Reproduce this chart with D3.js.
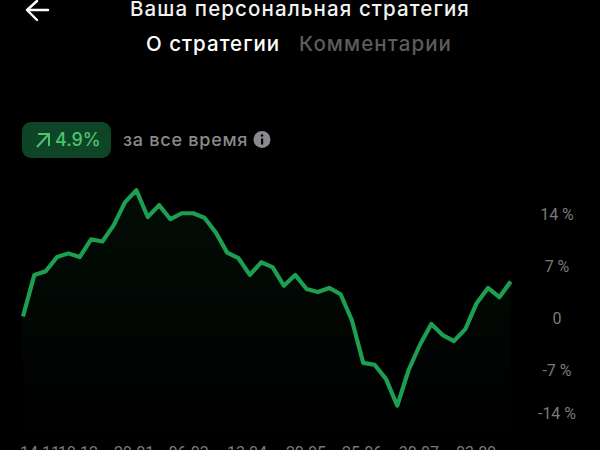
<!DOCTYPE html>
<html>
<head>
<meta charset="utf-8">
<script src="https://cdn.jsdelivr.net/npm/d3@7"></script>
<style>
  html, body { margin: 0; padding: 0; background: #000; overflow: hidden; }
  text { font-family: Inter, Roboto, sans-serif; }
  .tick-label { font-family: Roboto, sans-serif; }
</style>
</head>
<body>
<svg id="chart" width="600" height="450"></svg>
<script>
// percent per point
const returns = [0.2, 5.8, 6.3, 8.2, 8.7, 8.2, 10.6, 10.3, 12.5, 15.6, 17.2, 13.6, 15.2, 13.3, 14.1,
  14.1, 13.5, 11.5, 8.8, 8.05, 5.8, 7.5, 6.85, 4.35, 5.8, 3.9, 3.5, 4.05, 3.2, -0.3, -6.05, -6.3,
  -8.2, -11.8, -7.0, -3.6, -0.8, -2.3, -3.1, -1.5, 2.0, 4.05, 2.8, 4.9];
const yTicks = [14, 7, 0, -7];
const dateLabels = ['14.11', '19.12', '29.01', '06.03', '13.04', '20.05', '25.06', '30.07', '03.09'];
// where each date label is centred, in point numbers
const datePositions = [1.5, 4.85, 9.8, 14.6, 19.75, 24.95, 29.9, 34.9, 39.95];

const green = '#1d9f52';
const svg = d3.select('#chart');

const x = d3.scaleLinear().domain([0, returns.length - 1]).range([23, 510.7]);
const y = d3.scaleLinear().domain([0, 14]).range([318, 214]);

// header
svg.append('path')
  .attr('d', 'M48 10H28M37 1L27 10L37 20')
  .attr('fill', 'none').attr('stroke', '#fff').attr('stroke-width', 2.4)
  .attr('stroke-linecap', 'round').attr('stroke-linejoin', 'round');
svg.append('text').attr('x', 300).attr('y', 16).attr('text-anchor', 'middle')
  .attr('font-size', 20.5).attr('letter-spacing', 1.1).attr('font-weight', 500).attr('fill', '#f2f2f2')
  .text('Ваша персональная стратегия');
svg.append('text').attr('x', 146).attr('y', 51)
  .attr('font-size', 20.5).attr('letter-spacing', 1).attr('font-weight', 500).attr('fill', '#fff').text('О стратегии');
svg.append('text').attr('x', 299).attr('y', 51)
  .attr('font-size', 20.5).attr('letter-spacing', 1.1).attr('font-weight', 500).attr('fill', '#5c5c5c').text('Комментарии');

// badge
svg.append('rect').attr('x', 22).attr('y', 122).attr('width', 89).attr('height', 36)
  .attr('rx', 9).attr('fill', '#0e4526');
svg.append('path').attr('d', 'M37 147L49 134M38 134H49V146')
  .attr('fill', 'none').attr('stroke', '#4cc46c').attr('stroke-width', 2);
svg.append('text').attr('x', 55).attr('y', 146).attr('font-size', 18).attr('font-weight', 500)
  .attr('fill', '#4cc46c').text('4.9%');
svg.append('text').attr('x', 123).attr('y', 146).attr('font-size', 18).attr('letter-spacing', 0.75).attr('font-weight', 500)
  .attr('fill', '#8a8a8e').text('за все время');
svg.append('circle').attr('cx', 262).attr('cy', 139.5).attr('r', 8.5).attr('fill', '#8a8a8e');
svg.append('rect').attr('x', 261).attr('y', 138.5).attr('width', 2.2).attr('height', 6).attr('fill', '#000');
svg.append('circle').attr('cx', 262).attr('cy', 135.5).attr('r', 1.3).attr('fill', '#000');

// area under the line
const defs = svg.append('defs');
const grad = defs.append('linearGradient').attr('id', 'fade')
  .attr('gradientUnits', 'userSpaceOnUse')
  .attr('x1', 0).attr('x2', 0).attr('y1', y(17)).attr('y2', 440);
grad.append('stop').attr('offset', 0).attr('stop-color', green).attr('stop-opacity', 0.08);
grad.append('stop').attr('offset', 1).attr('stop-color', green).attr('stop-opacity', 0);

svg.append('path').datum(returns)
  .attr('fill', 'url(#fade)')
  .attr('d', d3.area().x((d, i) => x(i)).y0(440).y1(d => y(d)));
svg.append('path').datum(returns)
  .attr('fill', 'none').attr('stroke', green).attr('stroke-width', 4.2)
  .attr('stroke-linejoin', 'round')
  .attr('d', d3.line().x((d, i) => x(i)).y(d => y(d)));

// y labels
svg.selectAll('.ytick').data(yTicks).enter().append('text')
  .attr('class', 'ytick tick-label')
  .attr('x', 557).attr('y', d => y(d) + 6)
  .attr('text-anchor', 'middle').attr('font-size', 16).attr('fill', '#7a7a7a')
  .text(d => d === 0 ? '0' : d + ' %');
// lowest label sits closer than the grid step
svg.append('text').attr('class', 'tick-label').attr('x', 557).attr('y', 419)
  .attr('text-anchor', 'middle').attr('font-size', 16).attr('fill', '#7a7a7a').text('-14 %');

// x labels, cut by the bottom of the screen
svg.selectAll('.xtick').data(dateLabels).enter().append('text')
  .attr('class', 'xtick tick-label')
  .attr('x', (d, i) => x(datePositions[i]))
  .attr('y', 458)
  .attr('text-anchor', 'middle').attr('font-size', 16).attr('fill', '#7a7a7a')
  .text(d => d);
</script>
</body>
</html>
